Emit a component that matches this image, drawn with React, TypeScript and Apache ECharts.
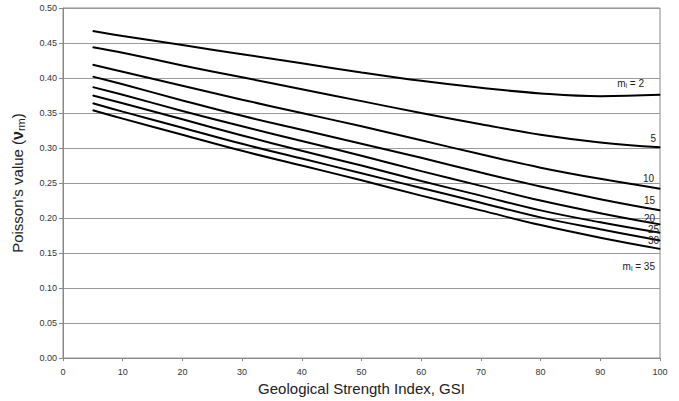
import React, { useEffect, useRef } from "react";
import * as echarts from "echarts";

const gsi = [5, 10, 20, 30, 40, 50, 60, 70, 80, 90, 100];
const mi2 = [0.467, 0.460, 0.447, 0.434, 0.421, 0.408, 0.396, 0.386, 0.378, 0.374, 0.376];
const mi5 = [0.444, 0.436, 0.418, 0.401, 0.384, 0.367, 0.350, 0.334, 0.319, 0.308, 0.301];
const mi10 = [0.419, 0.409, 0.389, 0.369, 0.350, 0.331, 0.311, 0.291, 0.272, 0.256, 0.242];
const mi15 = [0.402, 0.391, 0.368, 0.346, 0.326, 0.306, 0.286, 0.265, 0.245, 0.227, 0.211];
const mi20 = [0.387, 0.376, 0.353, 0.331, 0.310, 0.289, 0.267, 0.246, 0.225, 0.207, 0.191];
const mi25 = [0.375, 0.364, 0.341, 0.318, 0.296, 0.275, 0.253, 0.232, 0.211, 0.194, 0.179];
const mi30 = [0.364, 0.352, 0.329, 0.306, 0.285, 0.264, 0.243, 0.222, 0.201, 0.184, 0.168];
const mi35 = [0.354, 0.342, 0.319, 0.296, 0.275, 0.254, 0.232, 0.211, 0.190, 0.172, 0.156];

const seriesLabels = ["{t|m}{s|i}{t| = 2}", "5", "10", "15", "20", "25", "30", "{t|m}{s|i}{t| = 35}"];
const seriesValues = [mi2, mi5, mi10, mi15, mi20, mi25, mi30, mi35];
const labelPos: any[] = [
  { position: "top", offset: [-16, 0] },
  { position: "top", offset: [-4, 2] },
  { position: "top", offset: [-6, 0] },
  { position: "top", offset: [-5, 1] },
  { position: "top", offset: [-5, 5] },
  { position: "top", offset: [-1, 7] },
  { position: "top", offset: [-1, 11] },
  { position: "bottom", offset: [-5, 7] },
];

export default function App() {
  const ref = useRef<HTMLDivElement>(null);
  useEffect(() => {
    document.body.style.margin = "0";
    const chart = echarts.init(ref.current!, null, { renderer: "svg" });
    const font = "'Liberation Sans', Arial, sans-serif";
    const rich = {
      t: { fontSize: 10, color: "#222", fontFamily: font },
      s: { fontSize: 7, color: "#222", fontFamily: font, verticalAlign: "bottom", padding: [4, 0, 0, 0] },
    };
    chart.setOption({
      animation: false,
      backgroundColor: "#fff",
      grid: {
        left: 63,
        right: 19,
        top: 8,
        bottom: 39,
        show: true,
        borderColor: "#888",
        borderWidth: 1,
      },
      xAxis: {
        type: "value",
        min: 0,
        max: 100,
        interval: 10,
        name: "Geological Strength Index, GSI",
        nameLocation: "middle",
        nameGap: 19,
        nameTextStyle: { fontSize: 15, color: "#222", fontFamily: font },
        axisLine: { lineStyle: { color: "#888" } },
        axisTick: { length: 3, lineStyle: { color: "#888" } },
        axisLabel: { fontSize: 9, color: "#333", fontFamily: font, margin: 9 },
        splitLine: { show: false },
      },
      yAxis: {
        type: "value",
        min: 0,
        max: 0.5,
        interval: 0.05,
        name: "Poisson's value ({b|ν}{r|rm})",
        nameLocation: "middle",
        nameGap: 37,
        nameRotate: 90,
        nameTextStyle: {
          fontSize: 15,
          color: "#222",
          fontFamily: font,
          rich: {
            b: { fontSize: 16, fontWeight: "bold", color: "#222", fontFamily: font },
            r: { fontSize: 11, color: "#222", fontFamily: font, verticalAlign: "bottom", padding: [6, 0, 0, 0] },
          },
        },
        axisLine: { show: true, lineStyle: { color: "#888" } },
        axisTick: { show: true, length: 4, lineStyle: { color: "#888" } },
        axisLabel: {
          fontSize: 9,
          color: "#333",
          fontFamily: font,
          margin: 6,
          formatter: (v: number) => v.toFixed(2),
        },
        splitLine: { show: true, lineStyle: { color: "#999", width: 1 } },
      },
      series: seriesValues.map((vals, i) => ({
        type: "line",
        smooth: 0.4,
        symbol: "circle",
        symbolSize: 1,
        showSymbol: true,
        showAllSymbol: true,
        itemStyle: { color: "#000" },
        lineStyle: { color: "#000", width: 2 },
        data: vals.map((v, j) =>
          j === vals.length - 1
            ? {
                value: [gsi[j], v],
                label: {
                  show: true,
                  ...labelPos[i],
                  align: "right",
                  formatter: seriesLabels[i],
                  fontSize: 10,
                  color: "#222",
                  fontFamily: font,
                  rich,
                },
              }
            : [gsi[j], v]
        ),
      })),
    });
    return () => chart.dispose();
  }, []);
  return <div ref={ref} style={{ width: 679, height: 401 }} />;
}
